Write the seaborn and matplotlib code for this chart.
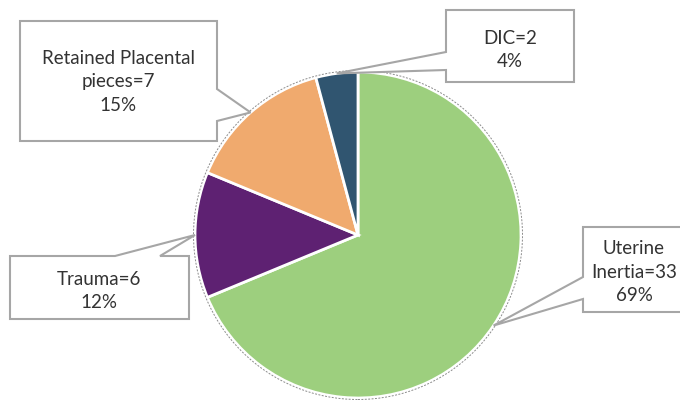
import numpy as np
import matplotlib
matplotlib.use("Agg")
import matplotlib.pyplot as plt
from matplotlib.patches import Polygon, Circle
import seaborn as sns

sns.set_theme(style="white")
plt.rcParams['font.family'] = ['Lato', 'DejaVu Sans']

# data
causes = ["Uterine\nInertia", "Trauma", "Retained Placental\npieces", "DIC"]
counts = [33, 6, 7, 2]
colors = ["#9DCF7E", "#5E2172", "#F0AA6E", "#305570"]

W, H = 680, 402
fig = plt.figure(figsize=(W / 100, H / 100), dpi=100)
ax = fig.add_axes([0, 0, 1, 1])

def py(y):
    # pixel row (top origin) -> data y
    return H - y

cx, cy, r = 358, py(236), 163
wedges, _ = ax.pie(counts, colors=colors, startangle=90, counterclock=False,
                   center=(cx, cy), radius=r, frame=True,
                   wedgeprops=dict(edgecolor="white", linewidth=2))
ax.set_xlim(0, W)
ax.set_ylim(0, H)
ax.axis("off")
ax.add_patch(Circle((cx, cy), r + 1.5, fill=False, edgecolor="#8C8C8C",
                    linestyle=(0, (2, 1.5)), linewidth=0.7))

total = sum(counts)

def tip(w):
    a = np.deg2rad((w.theta1 + w.theta2) / 2)
    return (cx + r * np.cos(a), cy + r * np.sin(a))

# callout boxes: (x0, x1, y0, y1) in pixels, side with pointer, pointer span
boxes = [
    dict(box=(583, 720, 228, 313), side="left", span=(278, 300), txt=(634, 272)),
    dict(box=(10, 189, 257, 320), side="top", span=(115, 160), txt=(99, 291)),
    dict(box=(20, 217, 22, 142), side="right", span=(90, 122), txt=(118, 82)),
    dict(box=(446, 574, 11, 83), side="left", span=(53, 71), txt=(510, 50)),
]

for w, name, n, b in zip(wedges, causes, counts, boxes):
    x0, x1, y0, y1 = b["box"]
    s0, s1 = b["span"]
    t = tip(w)
    if b["side"] == "left":
        pts = [(x0, py(y0)), (x1, py(y0)), (x1, py(y1)), (x0, py(y1)),
               (x0, py(s1)), t, (x0, py(s0))]
    elif b["side"] == "right":
        pts = [(x0, py(y0)), (x1, py(y0)), (x1, py(s0)), t, (x1, py(s1)),
               (x1, py(y1)), (x0, py(y1))]
    else:
        pts = [(x0, py(y0)), (s0, py(y0)), t, (s1, py(y0)), (x1, py(y0)),
               (x1, py(y1)), (x0, py(y1))]
    ax.add_patch(Polygon(pts, closed=True, facecolor="white",
                         edgecolor="#A6A6A6", linewidth=1.5, zorder=3))
    label = f"{name}={n}\n{round(100 * n / total)}%"
    ax.text(b["txt"][0], py(b["txt"][1]), label, ha="center", va="center",
            fontsize=13.5, color="#333333", linespacing=1.45, zorder=4)

fig.savefig("out.png", dpi=100)
